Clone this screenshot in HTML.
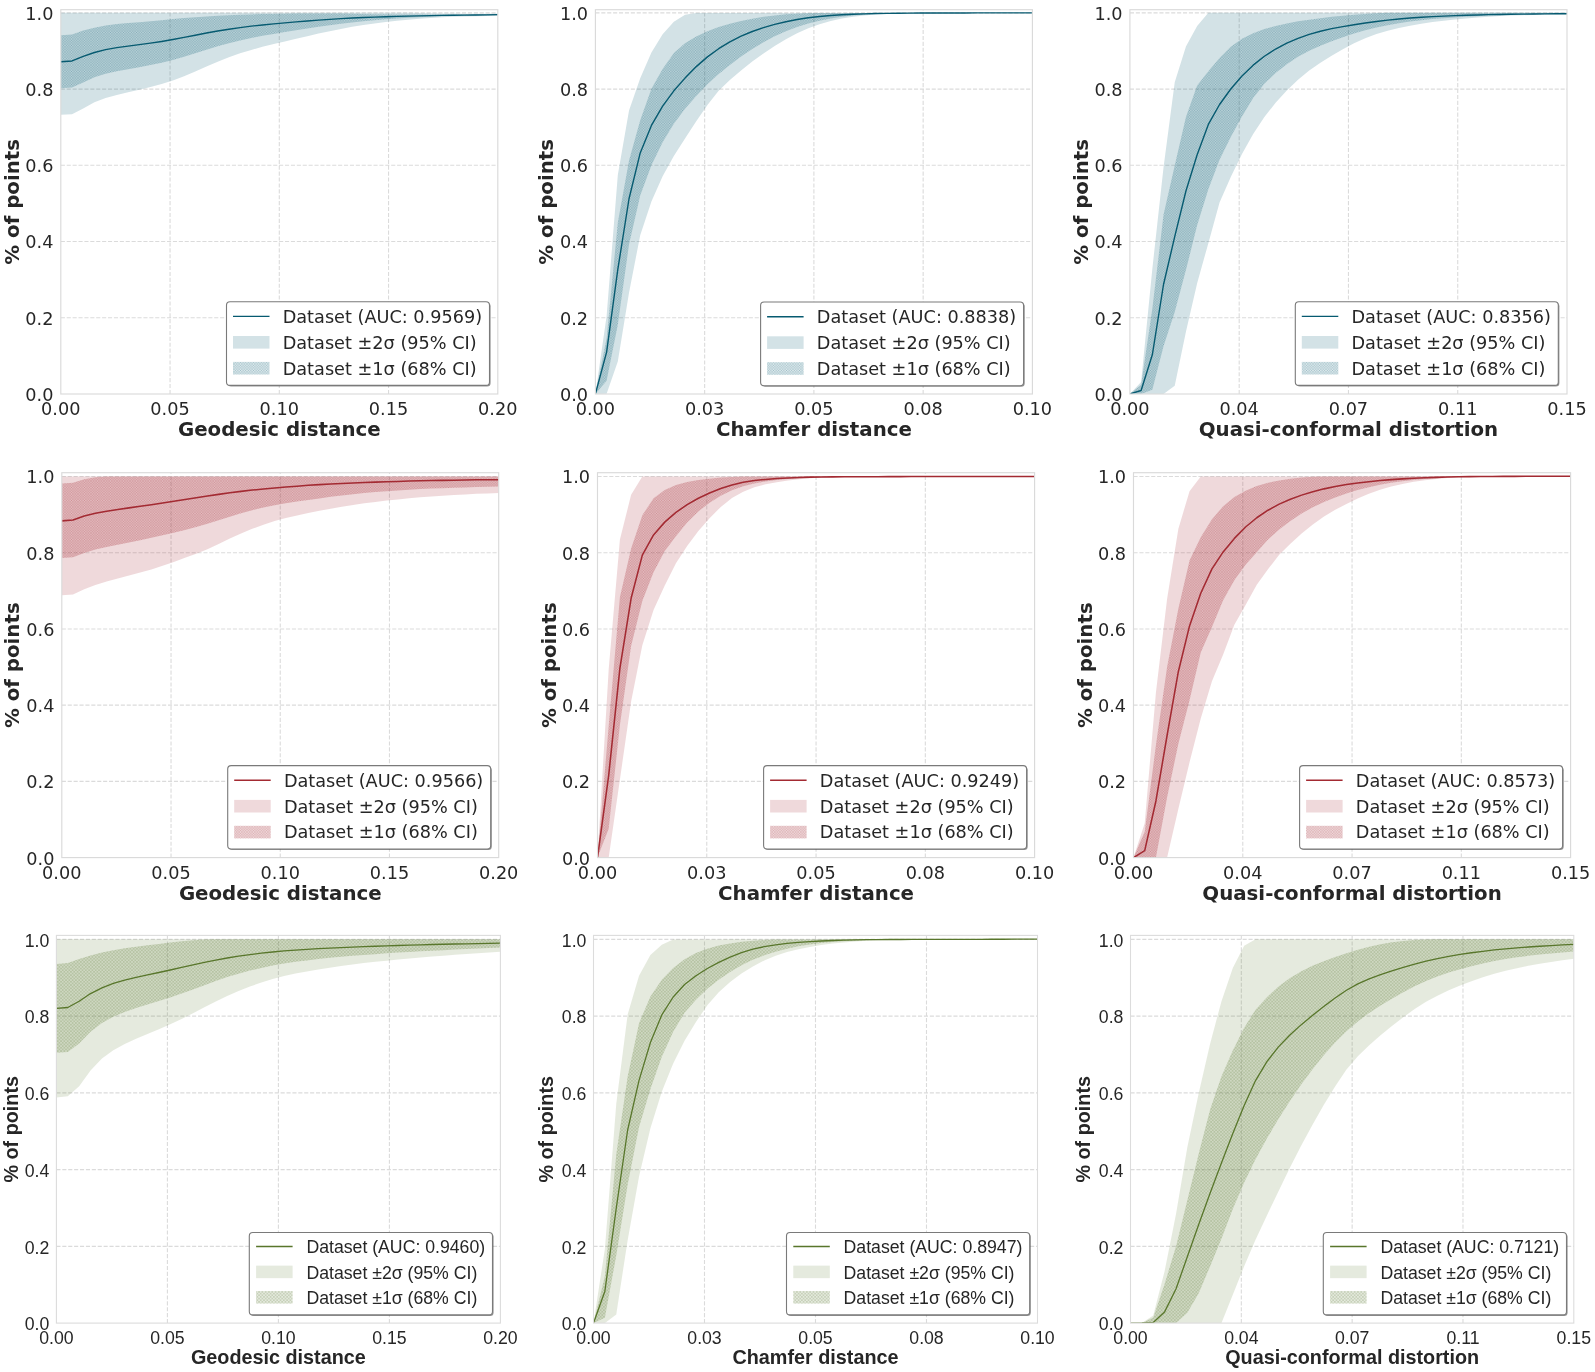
<!DOCTYPE html>
<html lang="en"><head><meta charset="utf-8"><title>CDF curves</title>
<style>html,body{margin:0;padding:0;background:#fff}svg{display:block}.dj{font-family:"DejaVu Sans","Liberation Sans",sans-serif}.lb{font-family:"Liberation Sans","DejaVu Sans",sans-serif}text{fill:#262626}.b{font-weight:bold}svg{will-change:transform;transform:translateZ(0)}</style></head><body>
<svg width="1595" height="1372" viewBox="0 0 1595 1372">
<rect width="1595" height="1372" fill="#fff"/>
<defs>
<pattern id="h1" width="2.6" height="2.6" patternUnits="userSpaceOnUse"><rect width="2.6" height="2.6" fill="#065a70" fill-opacity="0.15"/><path d="M0,0 L2.6,2.6 M0,2.6 L2.6,0" stroke="#065a70" stroke-opacity="0.22" stroke-width="0.6" stroke-linecap="square" fill="none"/></pattern>
<pattern id="h2" width="2.6" height="2.6" patternUnits="userSpaceOnUse"><rect width="2.6" height="2.6" fill="#a32a32" fill-opacity="0.19"/><path d="M0,0 L2.6,2.6 M0,2.6 L2.6,0" stroke="#a32a32" stroke-opacity="0.22" stroke-width="0.6" stroke-linecap="square" fill="none"/></pattern>
<pattern id="h3" width="3.3" height="3.3" patternUnits="userSpaceOnUse"><rect width="3.3" height="3.3" fill="#58762b" fill-opacity="0.16"/><path d="M0,0 L3.3,3.3 M0,3.3 L3.3,0" stroke="#58762b" stroke-opacity="0.21" stroke-width="0.8" stroke-linecap="square" fill="none"/></pattern>
</defs>
<g>
<clipPath id="c0"><rect x="60.8" y="9.7" width="437" height="384.3"/></clipPath>
<path d="M60.8,317.77 H497.8 M60.8,241.54 H497.8 M60.8,165.31 H497.8 M60.8,89.08 H497.8 M60.8,12.85 H497.8 M170.05,394 V9.7 M279.3,394 V9.7 M388.55,394 V9.7" stroke="#dbdbdb" stroke-opacity="1" stroke-width="1.1" stroke-dasharray="4.1 1.8" fill="none"/>
<g clip-path="url(#c0)">
<path d="M60.8,12.85 L72.01,12.85 L83.21,12.85 L94.42,12.85 L105.62,12.85 L116.83,12.85 L128.03,12.85 L139.24,12.85 L150.44,12.85 L161.65,12.85 L172.85,12.85 L184.06,12.85 L195.26,12.85 L206.47,12.85 L217.67,12.85 L228.88,12.85 L240.08,12.85 L251.29,12.85 L262.49,12.85 L273.7,12.85 L284.9,12.85 L296.11,12.85 L307.31,12.85 L318.52,12.85 L329.72,12.85 L340.93,12.85 L352.13,12.85 L363.34,12.85 L374.54,12.85 L385.75,12.85 L396.95,12.85 L408.16,12.85 L419.36,13.07 L430.57,13.28 L441.77,13.41 L452.98,13.58 L464.18,13.74 L475.39,13.83 L486.59,13.76 L497.8,13.55 L497.8,15.8 L486.59,15.94 L475.39,16.14 L464.18,16.43 L452.98,16.81 L441.77,17.31 L430.57,17.95 L419.36,18.73 L408.16,19.66 L396.95,20.73 L385.75,21.98 L374.54,23.4 L363.34,25.02 L352.13,26.86 L340.93,28.91 L329.72,31.16 L318.52,33.6 L307.31,36.17 L296.11,38.82 L284.9,41.46 L273.7,44.11 L262.49,46.86 L251.29,49.88 L240.08,53.32 L228.88,57.28 L217.67,61.76 L206.47,66.6 L195.26,71.53 L184.06,76.24 L172.85,80.45 L161.65,84.06 L150.44,87.11 L139.24,89.78 L128.03,92.27 L116.83,94.89 L105.62,98.02 L94.42,102.31 L83.21,108.62 L72.01,114.26 L60.8,114.83Z" fill="#065a70" fill-opacity="0.175"/>
<path d="M60.8,35.27 L72.01,34.41 L83.21,30.47 L94.42,27.71 L105.62,25.57 L116.83,24.06 L128.03,23.01 L139.24,22.15 L150.44,21.25 L161.65,20.2 L172.85,19.1 L184.06,18.06 L195.26,17.15 L206.47,16.38 L217.67,15.76 L228.88,15.24 L240.08,14.78 L251.29,14.38 L262.49,14.09 L273.7,13.88 L284.9,13.68 L296.11,13.51 L307.31,13.41 L318.52,13.43 L329.72,13.51 L340.93,13.62 L352.13,13.76 L363.34,13.93 L374.54,14.13 L385.75,14.31 L396.95,14.42 L408.16,14.46 L419.36,14.46 L430.57,14.44 L441.77,14.39 L452.98,14.39 L464.18,14.41 L475.39,14.41 L486.59,14.3 L497.8,14.11 L497.8,15.24 L486.59,15.39 L475.39,15.56 L464.18,15.76 L452.98,16 L441.77,16.35 L430.57,16.76 L419.36,17.24 L408.16,17.79 L396.95,18.42 L385.75,19.19 L374.54,20.13 L363.34,21.2 L352.13,22.38 L340.93,23.69 L329.72,25.15 L318.52,26.77 L307.31,28.49 L296.11,30.26 L284.9,32.06 L273.7,33.89 L262.49,35.82 L251.29,37.96 L240.08,40.38 L228.88,43.15 L217.67,46.27 L206.47,49.69 L195.26,53.25 L184.06,56.75 L172.85,59.96 L161.65,62.75 L150.44,65.11 L139.24,67.18 L128.03,69.15 L116.83,71.23 L105.62,73.76 L94.42,77.23 L83.21,82.38 L72.01,87.45 L60.8,88.31Z" fill="url(#h1)"/>
</g>
<path d="M60.8,61.79 L72.01,60.93 L83.21,56.43 L94.42,52.47 L105.62,49.67 L116.83,47.65 L128.03,46.08 L139.24,44.67 L150.44,43.18 L161.65,41.48 L172.85,39.53 L184.06,37.4 L195.26,35.2 L206.47,33.04 L217.67,31.02 L228.88,29.2 L240.08,27.58 L251.29,26.17 L262.49,24.96 L273.7,23.88 L284.9,22.87 L296.11,21.89 L307.31,20.95 L318.52,20.1 L329.72,19.33 L340.93,18.65 L352.13,18.07 L363.34,17.57 L374.54,17.13 L385.75,16.75 L396.95,16.42 L408.16,16.12 L419.36,15.85 L430.57,15.6 L441.77,15.37 L452.98,15.2 L464.18,15.09 L475.39,14.98 L486.59,14.84 L497.8,14.67" stroke="#065a70" stroke-width="1.4" fill="none" stroke-linejoin="round" clip-path="url(#c0)"/>
<rect x="60.8" y="9.7" width="437" height="384.3" fill="none" stroke="#dadada" stroke-width="1.15"/>
<text class="dj" x="53.4" y="400.9" font-size="17.68" text-anchor="end">0.0</text>
<text class="dj" x="53.4" y="324.67" font-size="17.68" text-anchor="end">0.2</text>
<text class="dj" x="53.4" y="248.44" font-size="17.68" text-anchor="end">0.4</text>
<text class="dj" x="53.4" y="172.21" font-size="17.68" text-anchor="end">0.6</text>
<text class="dj" x="53.4" y="95.98" font-size="17.68" text-anchor="end">0.8</text>
<text class="dj" x="53.4" y="19.75" font-size="17.68" text-anchor="end">1.0</text>
<text class="dj" x="60.8" y="415.3" font-size="17.68" text-anchor="middle">0.00</text>
<text class="dj" x="170.05" y="415.3" font-size="17.68" text-anchor="middle">0.05</text>
<text class="dj" x="279.3" y="415.3" font-size="17.68" text-anchor="middle">0.10</text>
<text class="dj" x="388.55" y="415.3" font-size="17.68" text-anchor="middle">0.15</text>
<text class="dj" x="497.8" y="415.3" font-size="17.68" text-anchor="middle">0.20</text>
<text class="dj b" x="279.3" y="436" font-size="19.8" text-anchor="middle">Geodesic distance</text>
<text class="dj b" transform="translate(19.2,201.85) rotate(-90)" font-size="19.8" text-anchor="middle">% of points</text>
<rect x="227.6" y="302.8" width="263" height="83.7" rx="3.5" fill="#000" fill-opacity="0.42"/>
<rect x="226.5" y="301.7" width="263" height="83.7" rx="3.5" fill="#fff" stroke="#7a7a7a" stroke-width="1.1"/>
<path d="M233,316.4 H269.5" stroke="#065a70" stroke-width="1.4"/>
<rect x="233" y="336" width="36.5" height="12.6" fill="#065a70" fill-opacity="0.175"/>
<rect x="233" y="361.9" width="36.5" height="12.6" fill="url(#h1)"/>
<text class="dj" x="282.7" y="322.7" font-size="17.68">Dataset (AUC: 0.9569)</text>
<text class="dj" x="282.7" y="348.6" font-size="17.68">Dataset ±2σ (95% CI)</text>
<text class="dj" x="282.7" y="374.5" font-size="17.68">Dataset ±1σ (68% CI)</text>
</g>
<g>
<clipPath id="c1"><rect x="595.4" y="9.7" width="437" height="384.3"/></clipPath>
<path d="M595.4,317.77 H1032.4 M595.4,241.54 H1032.4 M595.4,165.31 H1032.4 M595.4,89.08 H1032.4 M595.4,12.85 H1032.4 M704.65,394 V9.7 M813.9,394 V9.7 M923.15,394 V9.7" stroke="#dbdbdb" stroke-opacity="1" stroke-width="1.1" stroke-dasharray="4.1 1.8" fill="none"/>
<g clip-path="url(#c1)">
<path d="M595.4,393.88 L606.61,316.11 L617.81,175.09 L629.02,110.52 L640.22,78.19 L651.43,52.49 L662.63,34.16 L673.84,21.87 L685.04,14.64 L696.25,12.92 L707.45,12.92 L718.66,12.92 L729.86,12.92 L741.07,12.92 L752.27,12.92 L763.48,12.92 L774.68,12.92 L785.89,12.92 L797.09,12.92 L808.3,12.92 L819.5,12.92 L830.71,12.92 L841.91,12.92 L853.12,12.92 L864.32,12.92 L875.53,12.92 L886.73,12.92 L897.94,12.92 L909.14,12.92 L920.35,12.92 L931.55,12.92 L942.76,12.92 L953.96,12.92 L965.17,12.92 L976.37,12.92 L987.58,12.92 L998.78,12.92 L1009.99,12.92 L1021.19,12.92 L1032.4,12.92 L1032.4,12.92 L1021.19,12.92 L1009.99,12.93 L998.78,12.94 L987.58,12.96 L976.37,12.98 L965.17,13.01 L953.96,13.04 L942.76,13.08 L931.55,13.13 L920.35,13.19 L909.14,13.34 L897.94,13.6 L886.73,13.98 L875.53,14.56 L864.32,15.44 L853.12,16.73 L841.91,18.53 L830.71,21 L819.5,24.23 L808.3,28.32 L797.09,33.34 L785.89,39.25 L774.68,45.98 L763.48,53.45 L752.27,61.59 L741.07,70.4 L729.86,80.07 L718.66,90.86 L707.45,104.97 L696.25,121.14 L685.04,138.4 L673.84,155.94 L662.63,176.28 L651.43,201.38 L640.22,235.24 L629.02,292.73 L617.81,361.53 L606.61,393.86 L595.4,393.88Z" fill="#065a70" fill-opacity="0.175"/>
<path d="M595.4,393.87 L606.61,338.17 L617.81,222.46 L629.02,160.56 L640.22,120.36 L651.43,88.71 L662.63,69.09 L673.84,53.1 L685.04,43.33 L696.25,36.41 L707.45,31.21 L718.66,27.11 L729.86,23.79 L741.07,21.04 L752.27,18.71 L763.48,16.82 L774.68,15.39 L785.89,14.37 L797.09,13.65 L808.3,13.13 L819.5,13.03 L830.71,13.02 L841.91,13 L853.12,12.99 L864.32,12.98 L875.53,12.97 L886.73,12.96 L897.94,12.95 L909.14,12.94 L920.35,12.94 L931.55,12.93 L942.76,12.93 L953.96,12.92 L965.17,12.92 L976.37,12.92 L987.58,12.92 L998.78,12.92 L1009.99,12.92 L1021.19,12.92 L1032.4,12.92 L1032.4,12.92 L1021.19,12.92 L1009.99,12.93 L998.78,12.94 L987.58,12.96 L976.37,12.98 L965.17,13.01 L953.96,13.05 L942.76,13.09 L931.55,13.13 L920.35,13.18 L909.14,13.27 L897.94,13.42 L886.73,13.64 L875.53,14.05 L864.32,14.66 L853.12,15.56 L841.91,16.81 L830.71,18.5 L819.5,20.68 L808.3,23.48 L797.09,26.97 L785.89,31.24 L774.68,36.33 L763.48,42.27 L752.27,49.06 L741.07,56.61 L729.86,64.9 L718.66,74.05 L707.45,84.33 L696.25,96.01 L685.04,108.85 L673.84,123.81 L662.63,142.27 L651.43,165.3 L640.22,195.59 L629.02,244.52 L617.81,324.67 L606.61,380.67 L595.4,393.88Z" fill="url(#h1)"/>
</g>
<path d="M595.4,393.87 L606.61,352.1 L617.81,269.46 L629.02,198.76 L640.22,152.94 L651.43,125.42 L662.63,106.13 L673.84,90.83 L685.04,78.1 L696.25,66.61 L707.45,56.88 L718.66,48.7 L729.86,41.86 L741.07,36.18 L752.27,31.49 L763.48,27.62 L774.68,24.39 L785.89,21.71 L797.09,19.52 L808.3,17.78 L819.5,16.46 L830.71,15.47 L841.91,14.75 L853.12,14.22 L864.32,13.84 L875.53,13.56 L886.73,13.35 L897.94,13.22 L909.14,13.12 L920.35,13.05 L931.55,13.01 L942.76,12.98 L953.96,12.96 L965.17,12.94 L976.37,12.92 L987.58,12.92 L998.78,12.92 L1009.99,12.92 L1021.19,12.92 L1032.4,12.92" stroke="#065a70" stroke-width="1.4" fill="none" stroke-linejoin="round" clip-path="url(#c1)"/>
<rect x="595.4" y="9.7" width="437" height="384.3" fill="none" stroke="#dadada" stroke-width="1.15"/>
<text class="dj" x="588" y="400.9" font-size="17.68" text-anchor="end">0.0</text>
<text class="dj" x="588" y="324.67" font-size="17.68" text-anchor="end">0.2</text>
<text class="dj" x="588" y="248.44" font-size="17.68" text-anchor="end">0.4</text>
<text class="dj" x="588" y="172.21" font-size="17.68" text-anchor="end">0.6</text>
<text class="dj" x="588" y="95.98" font-size="17.68" text-anchor="end">0.8</text>
<text class="dj" x="588" y="19.75" font-size="17.68" text-anchor="end">1.0</text>
<text class="dj" x="595.4" y="415.3" font-size="17.68" text-anchor="middle">0.00</text>
<text class="dj" x="704.65" y="415.3" font-size="17.68" text-anchor="middle">0.03</text>
<text class="dj" x="813.9" y="415.3" font-size="17.68" text-anchor="middle">0.05</text>
<text class="dj" x="923.15" y="415.3" font-size="17.68" text-anchor="middle">0.08</text>
<text class="dj" x="1032.4" y="415.3" font-size="17.68" text-anchor="middle">0.10</text>
<text class="dj b" x="813.9" y="436" font-size="19.8" text-anchor="middle">Chamfer distance</text>
<text class="dj b" transform="translate(553,201.85) rotate(-90)" font-size="19.8" text-anchor="middle">% of points</text>
<rect x="761.7" y="303.1" width="263" height="83.7" rx="3.5" fill="#000" fill-opacity="0.42"/>
<rect x="760.6" y="302" width="263" height="83.7" rx="3.5" fill="#fff" stroke="#7a7a7a" stroke-width="1.1"/>
<path d="M767.1,316.7 H803.6" stroke="#065a70" stroke-width="1.4"/>
<rect x="767.1" y="336.3" width="36.5" height="12.6" fill="#065a70" fill-opacity="0.175"/>
<rect x="767.1" y="362.2" width="36.5" height="12.6" fill="url(#h1)"/>
<text class="dj" x="816.8" y="323" font-size="17.68">Dataset (AUC: 0.8838)</text>
<text class="dj" x="816.8" y="348.9" font-size="17.68">Dataset ±2σ (95% CI)</text>
<text class="dj" x="816.8" y="374.8" font-size="17.68">Dataset ±1σ (68% CI)</text>
</g>
<g>
<clipPath id="c2"><rect x="1129.9" y="9.7" width="437.1" height="384.3"/></clipPath>
<path d="M1129.9,317.77 H1567 M1129.9,241.54 H1567 M1129.9,165.31 H1567 M1129.9,89.08 H1567 M1129.9,12.85 H1567 M1239.18,394 V9.7 M1348.45,394 V9.7 M1457.72,394 V9.7" stroke="#dbdbdb" stroke-opacity="1" stroke-width="1.1" stroke-dasharray="4.1 1.8" fill="none"/>
<g clip-path="url(#c2)">
<path d="M1129.9,393.88 L1141.11,381.91 L1152.32,268.95 L1163.52,167.53 L1174.73,82.25 L1185.94,46.47 L1197.15,26.12 L1208.35,12.87 L1219.56,12.87 L1230.77,12.86 L1241.98,12.86 L1253.18,12.86 L1264.39,12.85 L1275.6,12.85 L1286.81,12.85 L1298.02,12.85 L1309.22,12.85 L1320.43,12.85 L1331.64,12.85 L1342.85,12.85 L1354.05,12.85 L1365.26,12.85 L1376.47,12.85 L1387.68,12.85 L1398.88,12.85 L1410.09,12.85 L1421.3,12.85 L1432.51,12.85 L1443.72,12.85 L1454.92,12.85 L1466.13,12.85 L1477.34,12.85 L1488.55,12.85 L1499.75,12.85 L1510.96,12.85 L1522.17,12.85 L1533.38,12.85 L1544.58,12.85 L1555.79,12.85 L1567,12.85 L1567,14.33 L1555.79,14.43 L1544.58,14.62 L1533.38,14.89 L1522.17,15.21 L1510.96,15.6 L1499.75,16.11 L1488.55,16.75 L1477.34,17.54 L1466.13,18.47 L1454.92,19.54 L1443.72,20.74 L1432.51,22.12 L1421.3,23.75 L1410.09,25.69 L1398.88,28 L1387.68,30.75 L1376.47,34.1 L1365.26,38.27 L1354.05,43.34 L1342.85,49.19 L1331.64,55.64 L1320.43,62.7 L1309.22,70.62 L1298.02,79.78 L1286.81,90.46 L1275.6,102.79 L1264.39,117.05 L1253.18,133.9 L1241.98,154.01 L1230.77,177.12 L1219.56,202.39 L1208.35,243.14 L1197.15,283.16 L1185.94,331.74 L1174.73,385.77 L1163.52,393.88 L1152.32,393.88 L1141.11,393.88 L1129.9,393.88Z" fill="#065a70" fill-opacity="0.175"/>
<path d="M1129.9,393.88 L1141.11,384.81 L1152.32,308.68 L1163.52,214.7 L1174.73,165.57 L1185.94,117.02 L1197.15,85.38 L1208.35,71.27 L1219.56,58.05 L1230.77,46.82 L1241.98,38.86 L1253.18,33.2 L1264.39,29.08 L1275.6,25.93 L1286.81,23.42 L1298.02,21.36 L1309.22,19.66 L1320.43,18.18 L1331.64,16.87 L1342.85,15.73 L1354.05,14.76 L1365.26,13.97 L1376.47,13.34 L1387.68,12.85 L1398.88,12.85 L1410.09,12.85 L1421.3,12.85 L1432.51,12.85 L1443.72,12.85 L1454.92,12.85 L1466.13,12.85 L1477.34,12.85 L1488.55,12.85 L1499.75,12.85 L1510.96,12.85 L1522.17,12.85 L1533.38,12.85 L1544.58,12.85 L1555.79,12.85 L1567,12.85 L1567,14.03 L1555.79,14.09 L1544.58,14.22 L1533.38,14.4 L1522.17,14.6 L1510.96,14.85 L1499.75,15.19 L1488.55,15.62 L1477.34,16.14 L1466.13,16.75 L1454.92,17.44 L1443.72,18.22 L1432.51,19.12 L1421.3,20.23 L1410.09,21.58 L1398.88,23.22 L1387.68,25.18 L1376.47,27.54 L1365.26,30.35 L1354.05,33.62 L1342.85,37.28 L1331.64,41.27 L1320.43,45.7 L1309.22,50.8 L1298.02,56.87 L1286.81,64.2 L1275.6,73.08 L1264.39,83.85 L1253.18,98.06 L1241.98,116.62 L1230.77,137.06 L1219.56,159.66 L1208.35,189.16 L1197.15,225.2 L1185.94,270.08 L1174.73,311.88 L1163.52,346.14 L1152.32,389.84 L1141.11,393.88 L1129.9,393.88Z" fill="url(#h1)"/>
</g>
<path d="M1129.9,393.88 L1141.11,390.52 L1152.32,354.8 L1163.52,284.51 L1174.73,236.68 L1185.94,190.97 L1197.15,154.7 L1208.35,124.44 L1219.56,104.52 L1230.77,88.99 L1241.98,76.02 L1253.18,65.17 L1264.39,56.27 L1275.6,49.03 L1286.81,43.17 L1298.02,38.37 L1309.22,34.42 L1320.43,31.22 L1331.64,28.68 L1342.85,26.58 L1354.05,24.71 L1365.26,22.99 L1376.47,21.44 L1387.68,20.1 L1398.88,18.98 L1410.09,18.04 L1421.3,17.27 L1432.51,16.62 L1443.72,16.08 L1454.92,15.63 L1466.13,15.25 L1477.34,14.93 L1488.55,14.67 L1499.75,14.47 L1510.96,14.3 L1522.17,14.16 L1533.38,14.03 L1544.58,13.91 L1555.79,13.81 L1567,13.73" stroke="#065a70" stroke-width="1.4" fill="none" stroke-linejoin="round" clip-path="url(#c2)"/>
<rect x="1129.9" y="9.7" width="437.1" height="384.3" fill="none" stroke="#dadada" stroke-width="1.15"/>
<text class="dj" x="1122.5" y="400.9" font-size="17.68" text-anchor="end">0.0</text>
<text class="dj" x="1122.5" y="324.67" font-size="17.68" text-anchor="end">0.2</text>
<text class="dj" x="1122.5" y="248.44" font-size="17.68" text-anchor="end">0.4</text>
<text class="dj" x="1122.5" y="172.21" font-size="17.68" text-anchor="end">0.6</text>
<text class="dj" x="1122.5" y="95.98" font-size="17.68" text-anchor="end">0.8</text>
<text class="dj" x="1122.5" y="19.75" font-size="17.68" text-anchor="end">1.0</text>
<text class="dj" x="1129.9" y="415.3" font-size="17.68" text-anchor="middle">0.00</text>
<text class="dj" x="1239.18" y="415.3" font-size="17.68" text-anchor="middle">0.04</text>
<text class="dj" x="1348.45" y="415.3" font-size="17.68" text-anchor="middle">0.07</text>
<text class="dj" x="1457.72" y="415.3" font-size="17.68" text-anchor="middle">0.11</text>
<text class="dj" x="1567" y="415.3" font-size="17.68" text-anchor="middle">0.15</text>
<text class="dj b" x="1348.45" y="436" font-size="19.8" text-anchor="middle">Quasi-conformal distortion</text>
<text class="dj b" transform="translate(1088,201.85) rotate(-90)" font-size="19.8" text-anchor="middle">% of points</text>
<rect x="1296.4" y="302.8" width="263" height="83.7" rx="3.5" fill="#000" fill-opacity="0.42"/>
<rect x="1295.3" y="301.7" width="263" height="83.7" rx="3.5" fill="#fff" stroke="#7a7a7a" stroke-width="1.1"/>
<path d="M1301.8,316.4 H1338.3" stroke="#065a70" stroke-width="1.4"/>
<rect x="1301.8" y="336" width="36.5" height="12.6" fill="#065a70" fill-opacity="0.175"/>
<rect x="1301.8" y="361.9" width="36.5" height="12.6" fill="url(#h1)"/>
<text class="dj" x="1351.5" y="322.7" font-size="17.68">Dataset (AUC: 0.8356)</text>
<text class="dj" x="1351.5" y="348.6" font-size="17.68">Dataset ±2σ (95% CI)</text>
<text class="dj" x="1351.5" y="374.5" font-size="17.68">Dataset ±1σ (68% CI)</text>
</g>
<g>
<clipPath id="c3"><rect x="61.8" y="472.7" width="436.9" height="384.9"/></clipPath>
<path d="M61.8,781.38 H498.7 M61.8,705.16 H498.7 M61.8,628.94 H498.7 M61.8,552.72 H498.7 M61.8,476.5 H498.7 M171.02,857.6 V472.7 M280.25,857.6 V472.7 M389.47,857.6 V472.7" stroke="#dbdbdb" stroke-opacity="1" stroke-width="1.1" stroke-dasharray="4.1 1.8" fill="none"/>
<g clip-path="url(#c3)">
<path d="M61.8,476.5 L73,476.5 L84.21,476.5 L95.41,476.5 L106.61,476.5 L117.81,476.5 L129.02,476.5 L140.22,476.5 L151.42,476.5 L162.62,476.5 L173.83,476.5 L185.03,476.5 L196.23,476.5 L207.43,476.5 L218.64,476.5 L229.84,476.5 L241.04,476.5 L252.24,476.5 L263.45,476.5 L274.65,476.5 L285.85,476.5 L297.05,476.5 L308.26,476.5 L319.46,476.5 L330.66,476.5 L341.86,476.5 L353.07,476.5 L364.27,476.5 L375.47,476.5 L386.67,476.5 L397.88,476.5 L409.08,476.5 L420.28,476.5 L431.48,476.5 L442.69,476.5 L453.89,476.5 L465.09,476.5 L476.29,476.5 L487.5,476.5 L498.7,476.5 L498.7,492.95 L487.5,493.38 L476.29,493.87 L465.09,494.4 L453.89,495 L442.69,495.67 L431.48,496.44 L420.28,497.32 L409.08,498.31 L397.88,499.41 L386.67,500.6 L375.47,501.89 L364.27,503.3 L353.07,504.88 L341.86,506.65 L330.66,508.64 L319.46,510.8 L308.26,513.06 L297.05,515.44 L285.85,518.06 L274.65,521.1 L263.45,524.68 L252.24,528.83 L241.04,533.49 L229.84,538.55 L218.64,543.91 L207.43,549.16 L196.23,553.81 L185.03,557.86 L173.83,561.88 L162.62,565.86 L151.42,569.53 L140.22,572.62 L129.02,575.54 L117.81,578.42 L106.61,581.47 L95.41,585 L84.21,589.3 L73,594.42 L61.8,595.35Z" fill="#a32a32" fill-opacity="0.175"/>
<path d="M61.8,483.62 L73,482.7 L84.21,479.16 L95.41,477.15 L106.61,476.5 L117.81,476.5 L129.02,476.5 L140.22,476.5 L151.42,476.5 L162.62,476.5 L173.83,476.5 L185.03,476.5 L196.23,476.5 L207.43,476.5 L218.64,476.5 L229.84,476.5 L241.04,476.5 L252.24,476.5 L263.45,476.5 L274.65,476.5 L285.85,476.5 L297.05,476.5 L308.26,476.5 L319.46,476.5 L330.66,476.5 L341.86,476.5 L353.07,476.5 L364.27,476.5 L375.47,476.5 L386.67,476.5 L397.88,476.5 L409.08,476.5 L420.28,476.5 L431.48,476.5 L442.69,476.5 L453.89,476.5 L465.09,476.5 L476.29,476.5 L487.5,476.5 L498.7,476.5 L498.7,486.45 L487.5,486.75 L476.29,487.06 L465.09,487.39 L453.89,487.74 L442.69,488.13 L431.48,488.58 L420.28,489.09 L409.08,489.7 L397.88,490.39 L386.67,491.18 L375.47,492.06 L364.27,493.05 L353.07,494.18 L341.86,495.45 L330.66,496.87 L319.46,498.39 L308.26,499.96 L297.05,501.59 L285.85,503.33 L274.65,505.28 L263.45,507.56 L252.24,510.22 L241.04,513.31 L229.84,516.82 L218.64,520.32 L207.43,523.67 L196.23,527.02 L185.03,529.95 L173.83,532.86 L162.62,535.37 L151.42,537.74 L140.22,540.21 L129.02,542.46 L117.81,544.68 L106.61,546.97 L95.41,549.58 L84.21,552.98 L73,557.18 L61.8,558.1Z" fill="url(#h2)"/>
</g>
<path d="M61.8,520.86 L73,519.94 L84.21,516.07 L95.41,513.36 L106.61,511.26 L117.81,509.5 L129.02,507.89 L140.22,506.32 L151.42,504.73 L162.62,503.08 L173.83,501.34 L185.03,499.54 L196.23,497.74 L207.43,496.01 L218.64,494.37 L229.84,492.82 L241.04,491.38 L252.24,490.09 L263.45,488.95 L274.65,487.94 L285.85,487.02 L297.05,486.16 L308.26,485.35 L319.46,484.63 L330.66,483.99 L341.86,483.43 L353.07,482.95 L364.27,482.51 L375.47,482.11 L386.67,481.74 L397.88,481.4 L409.08,481.1 L420.28,480.83 L431.48,480.59 L442.69,480.37 L453.89,480.17 L465.09,479.98 L476.29,479.83 L487.5,479.73 L498.7,479.67" stroke="#a32a32" stroke-width="1.55" fill="none" stroke-linejoin="round" clip-path="url(#c3)"/>
<rect x="61.8" y="472.7" width="436.9" height="384.9" fill="none" stroke="#dadada" stroke-width="1.15"/>
<text class="dj" x="54.4" y="864.5" font-size="17.68" text-anchor="end">0.0</text>
<text class="dj" x="54.4" y="788.28" font-size="17.68" text-anchor="end">0.2</text>
<text class="dj" x="54.4" y="712.06" font-size="17.68" text-anchor="end">0.4</text>
<text class="dj" x="54.4" y="635.84" font-size="17.68" text-anchor="end">0.6</text>
<text class="dj" x="54.4" y="559.62" font-size="17.68" text-anchor="end">0.8</text>
<text class="dj" x="54.4" y="483.4" font-size="17.68" text-anchor="end">1.0</text>
<text class="dj" x="61.8" y="878.9" font-size="17.68" text-anchor="middle">0.00</text>
<text class="dj" x="171.02" y="878.9" font-size="17.68" text-anchor="middle">0.05</text>
<text class="dj" x="280.25" y="878.9" font-size="17.68" text-anchor="middle">0.10</text>
<text class="dj" x="389.47" y="878.9" font-size="17.68" text-anchor="middle">0.15</text>
<text class="dj" x="498.7" y="878.9" font-size="17.68" text-anchor="middle">0.20</text>
<text class="dj b" x="280.25" y="899.6" font-size="19.8" text-anchor="middle">Geodesic distance</text>
<text class="dj b" transform="translate(19.2,665.15) rotate(-90)" font-size="19.8" text-anchor="middle">% of points</text>
<rect x="228.8" y="766.7" width="263" height="83.4" rx="3.5" fill="#000" fill-opacity="0.42"/>
<rect x="227.7" y="765.6" width="263" height="83.4" rx="3.5" fill="#fff" stroke="#7a7a7a" stroke-width="1.1"/>
<path d="M234.2,780.3 H270.7" stroke="#a32a32" stroke-width="1.55"/>
<rect x="234.2" y="799.9" width="36.5" height="12.6" fill="#a32a32" fill-opacity="0.175"/>
<rect x="234.2" y="825.8" width="36.5" height="12.6" fill="url(#h2)"/>
<text class="dj" x="283.9" y="786.6" font-size="17.68">Dataset (AUC: 0.9566)</text>
<text class="dj" x="283.9" y="812.5" font-size="17.68">Dataset ±2σ (95% CI)</text>
<text class="dj" x="283.9" y="838.4" font-size="17.68">Dataset ±1σ (68% CI)</text>
</g>
<g>
<clipPath id="c4"><rect x="597.5" y="472.7" width="437.1" height="384.9"/></clipPath>
<path d="M597.5,781.38 H1034.6 M597.5,705.16 H1034.6 M597.5,628.94 H1034.6 M597.5,552.72 H1034.6 M597.5,476.5 H1034.6 M706.77,857.6 V472.7 M816.05,857.6 V472.7 M925.32,857.6 V472.7" stroke="#dbdbdb" stroke-opacity="1" stroke-width="1.1" stroke-dasharray="4.1 1.8" fill="none"/>
<g clip-path="url(#c4)">
<path d="M597.5,857.59 L608.71,668.91 L619.92,539.49 L631.12,494.86 L642.33,476.5 L653.54,476.5 L664.75,476.5 L675.95,476.5 L687.16,476.5 L698.37,476.5 L709.58,476.5 L720.78,476.5 L731.99,476.5 L743.2,476.5 L754.41,476.5 L765.62,476.5 L776.82,476.5 L788.03,476.5 L799.24,476.5 L810.45,476.5 L821.65,476.5 L832.86,476.5 L844.07,476.5 L855.28,476.5 L866.48,476.5 L877.69,476.5 L888.9,476.5 L900.11,476.5 L911.32,476.5 L922.52,476.5 L933.73,476.5 L944.94,476.5 L956.15,476.5 L967.35,476.5 L978.56,476.5 L989.77,476.5 L1000.98,476.51 L1012.18,476.52 L1023.39,476.53 L1034.6,476.54 L1034.6,476.54 L1023.39,476.54 L1012.18,476.54 L1000.98,476.55 L989.77,476.55 L978.56,476.56 L967.35,476.56 L956.15,476.57 L944.94,476.58 L933.73,476.59 L922.52,476.61 L911.32,476.62 L900.11,476.64 L888.9,476.66 L877.69,476.69 L866.48,476.72 L855.28,476.75 L844.07,476.78 L832.86,476.95 L821.65,477.49 L810.45,478.19 L799.24,479.14 L788.03,480.43 L776.82,482.16 L765.62,484.36 L754.41,487.33 L743.2,491.67 L731.99,498.09 L720.78,506.9 L709.58,518.3 L698.37,530.88 L687.16,546.12 L675.95,563.31 L664.75,585.45 L653.54,610 L642.33,645.21 L631.12,701.51 L619.92,779.52 L608.71,857.59 L597.5,857.59Z" fill="#a32a32" fill-opacity="0.175"/>
<path d="M597.5,857.59 L608.71,725.59 L619.92,596.93 L631.12,548.46 L642.33,515.26 L653.54,498.34 L664.75,490 L675.95,485 L687.16,481.96 L698.37,480.01 L709.58,478.63 L720.78,477.62 L731.99,476.92 L743.2,476.5 L754.41,476.5 L765.62,476.5 L776.82,476.5 L788.03,476.5 L799.24,476.5 L810.45,476.5 L821.65,476.5 L832.86,476.5 L844.07,476.5 L855.28,476.5 L866.48,476.5 L877.69,476.5 L888.9,476.5 L900.11,476.5 L911.32,476.5 L922.52,476.5 L933.73,476.5 L944.94,476.5 L956.15,476.5 L967.35,476.5 L978.56,476.5 L989.77,476.5 L1000.98,476.5 L1012.18,476.51 L1023.39,476.53 L1034.6,476.54 L1034.6,476.54 L1023.39,476.54 L1012.18,476.54 L1000.98,476.55 L989.77,476.55 L978.56,476.56 L967.35,476.56 L956.15,476.57 L944.94,476.58 L933.73,476.59 L922.52,476.61 L911.32,476.63 L900.11,476.65 L888.9,476.67 L877.69,476.69 L866.48,476.72 L855.28,476.75 L844.07,476.78 L832.86,476.9 L821.65,477.23 L810.45,477.65 L799.24,478.21 L788.03,478.99 L776.82,480.06 L765.62,481.47 L754.41,483.39 L743.2,486.17 L731.99,490.19 L720.78,495.63 L709.58,502.63 L698.37,511.46 L687.16,522.54 L675.95,536.16 L664.75,550.95 L653.54,572.31 L642.33,601 L631.12,646.03 L619.92,724.93 L608.71,828.74 L597.5,857.59Z" fill="url(#h2)"/>
</g>
<path d="M597.5,857.59 L608.71,775.27 L619.92,668.07 L631.12,598.29 L642.33,555.1 L653.54,534.99 L664.75,522.12 L675.95,512.42 L687.16,504.64 L698.37,498.26 L709.58,492.94 L720.78,488.51 L731.99,484.95 L743.2,482.32 L754.41,480.58 L765.62,479.42 L776.82,478.58 L788.03,477.94 L799.24,477.46 L810.45,477.14 L821.65,476.97 L832.86,476.86 L844.07,476.76 L855.28,476.7 L866.48,476.67 L877.69,476.65 L888.9,476.63 L900.11,476.61 L911.32,476.59 L922.52,476.58 L933.73,476.57 L944.94,476.56 L956.15,476.55 L967.35,476.55 L978.56,476.54 L989.77,476.54 L1000.98,476.54 L1012.18,476.54 L1023.39,476.54 L1034.6,476.54" stroke="#a32a32" stroke-width="1.55" fill="none" stroke-linejoin="round" clip-path="url(#c4)"/>
<rect x="597.5" y="472.7" width="437.1" height="384.9" fill="none" stroke="#dadada" stroke-width="1.15"/>
<text class="dj" x="590.1" y="864.5" font-size="17.68" text-anchor="end">0.0</text>
<text class="dj" x="590.1" y="788.28" font-size="17.68" text-anchor="end">0.2</text>
<text class="dj" x="590.1" y="712.06" font-size="17.68" text-anchor="end">0.4</text>
<text class="dj" x="590.1" y="635.84" font-size="17.68" text-anchor="end">0.6</text>
<text class="dj" x="590.1" y="559.62" font-size="17.68" text-anchor="end">0.8</text>
<text class="dj" x="590.1" y="483.4" font-size="17.68" text-anchor="end">1.0</text>
<text class="dj" x="597.5" y="878.9" font-size="17.68" text-anchor="middle">0.00</text>
<text class="dj" x="706.77" y="878.9" font-size="17.68" text-anchor="middle">0.03</text>
<text class="dj" x="816.05" y="878.9" font-size="17.68" text-anchor="middle">0.05</text>
<text class="dj" x="925.32" y="878.9" font-size="17.68" text-anchor="middle">0.08</text>
<text class="dj" x="1034.6" y="878.9" font-size="17.68" text-anchor="middle">0.10</text>
<text class="dj b" x="816.05" y="899.6" font-size="19.8" text-anchor="middle">Chamfer distance</text>
<text class="dj b" transform="translate(555.7,665.15) rotate(-90)" font-size="19.8" text-anchor="middle">% of points</text>
<rect x="764.7" y="766.7" width="263" height="83.4" rx="3.5" fill="#000" fill-opacity="0.42"/>
<rect x="763.6" y="765.6" width="263" height="83.4" rx="3.5" fill="#fff" stroke="#7a7a7a" stroke-width="1.1"/>
<path d="M770.1,780.3 H806.6" stroke="#a32a32" stroke-width="1.55"/>
<rect x="770.1" y="799.9" width="36.5" height="12.6" fill="#a32a32" fill-opacity="0.175"/>
<rect x="770.1" y="825.8" width="36.5" height="12.6" fill="url(#h2)"/>
<text class="dj" x="819.8" y="786.6" font-size="17.68">Dataset (AUC: 0.9249)</text>
<text class="dj" x="819.8" y="812.5" font-size="17.68">Dataset ±2σ (95% CI)</text>
<text class="dj" x="819.8" y="838.4" font-size="17.68">Dataset ±1σ (68% CI)</text>
</g>
<g>
<clipPath id="c5"><rect x="1133.5" y="472.7" width="437.1" height="384.9"/></clipPath>
<path d="M1133.5,781.38 H1570.6 M1133.5,705.16 H1570.6 M1133.5,628.94 H1570.6 M1133.5,552.72 H1570.6 M1133.5,476.5 H1570.6 M1242.78,857.6 V472.7 M1352.05,857.6 V472.7 M1461.32,857.6 V472.7" stroke="#dbdbdb" stroke-opacity="1" stroke-width="1.1" stroke-dasharray="4.1 1.8" fill="none"/>
<g clip-path="url(#c5)">
<path d="M1133.5,857.59 L1144.71,823.21 L1155.92,692.57 L1167.12,598.68 L1178.33,528.93 L1189.54,491.14 L1200.75,476.5 L1211.95,476.5 L1223.16,476.5 L1234.37,476.5 L1245.58,476.5 L1256.78,476.5 L1267.99,476.5 L1279.2,476.5 L1290.41,476.5 L1301.62,476.5 L1312.82,476.5 L1324.03,476.5 L1335.24,476.5 L1346.45,476.5 L1357.65,476.5 L1368.86,476.5 L1380.07,476.5 L1391.28,476.5 L1402.48,476.5 L1413.69,476.5 L1424.9,476.5 L1436.11,476.5 L1447.32,476.5 L1458.52,476.5 L1469.73,476.5 L1480.94,476.5 L1492.15,476.5 L1503.35,476.5 L1514.56,476.5 L1525.77,476.5 L1536.98,476.5 L1548.18,476.5 L1559.39,476.5 L1570.6,476.5 L1570.6,476.5 L1559.39,476.5 L1548.18,476.5 L1536.98,476.5 L1525.77,476.5 L1514.56,476.5 L1503.35,476.5 L1492.15,476.5 L1480.94,476.66 L1469.73,476.99 L1458.52,477.47 L1447.32,478.12 L1436.11,479.02 L1424.9,480.23 L1413.69,481.83 L1402.48,483.88 L1391.28,486.48 L1380.07,489.73 L1368.86,493.75 L1357.65,498.53 L1346.45,503.91 L1335.24,509.84 L1324.03,516.6 L1312.82,524.49 L1301.62,533.55 L1290.41,543.69 L1279.2,554.87 L1267.99,569.26 L1256.78,584.8 L1245.58,605.08 L1234.37,624.81 L1223.16,654.62 L1211.95,681.32 L1200.75,718.4 L1189.54,762.16 L1178.33,808.95 L1167.12,857.59 L1155.92,857.59 L1144.71,857.59 L1133.5,857.59Z" fill="#a32a32" fill-opacity="0.175"/>
<path d="M1133.5,857.59 L1144.71,831.85 L1155.92,745.05 L1167.12,666.81 L1178.33,608.85 L1189.54,560.59 L1200.75,537.28 L1211.95,519.23 L1223.16,506.18 L1234.37,497.03 L1245.58,490.63 L1256.78,486.08 L1267.99,482.79 L1279.2,480.4 L1290.41,478.71 L1301.62,477.55 L1312.82,476.78 L1324.03,476.5 L1335.24,476.5 L1346.45,476.5 L1357.65,476.5 L1368.86,476.5 L1380.07,476.5 L1391.28,476.5 L1402.48,476.5 L1413.69,476.5 L1424.9,476.5 L1436.11,476.5 L1447.32,476.5 L1458.52,476.5 L1469.73,476.5 L1480.94,476.5 L1492.15,476.5 L1503.35,476.5 L1514.56,476.5 L1525.77,476.5 L1536.98,476.5 L1548.18,476.5 L1559.39,476.5 L1570.6,476.5 L1570.6,476.5 L1559.39,476.5 L1548.18,476.5 L1536.98,476.5 L1525.77,476.5 L1514.56,476.5 L1503.35,476.5 L1492.15,476.5 L1480.94,476.56 L1469.73,476.75 L1458.52,477.12 L1447.32,477.57 L1436.11,478.15 L1424.9,478.92 L1413.69,479.95 L1402.48,481.25 L1391.28,482.82 L1380.07,484.74 L1368.86,487.13 L1357.65,490.07 L1346.45,493.52 L1335.24,497.45 L1324.03,501.97 L1312.82,507.28 L1301.62,513.53 L1290.41,520.89 L1279.2,529.5 L1267.99,539.59 L1256.78,552.22 L1245.58,564.72 L1234.37,580.26 L1223.16,600.26 L1211.95,626.98 L1200.75,652.59 L1189.54,700.14 L1178.33,744 L1167.12,797.19 L1155.92,857.59 L1144.71,857.59 L1133.5,857.59Z" fill="url(#h2)"/>
</g>
<path d="M1133.5,857.59 L1144.71,850.65 L1155.92,800.97 L1167.12,735.25 L1178.33,671.74 L1189.54,625.89 L1200.75,593.27 L1211.95,568.85 L1223.16,551.91 L1234.37,538.4 L1245.58,527.02 L1256.78,517.75 L1267.99,510.23 L1279.2,504.16 L1290.41,499.21 L1301.62,495.12 L1312.82,491.7 L1324.03,488.87 L1335.24,486.53 L1346.45,484.6 L1357.65,483 L1368.86,481.66 L1380.07,480.55 L1391.28,479.63 L1402.48,478.88 L1413.69,478.27 L1424.9,477.77 L1436.11,477.37 L1447.32,477.04 L1458.52,476.77 L1469.73,476.62 L1480.94,476.5 L1492.15,476.43 L1503.35,476.39 L1514.56,476.36 L1525.77,476.33 L1536.98,476.31 L1548.18,476.29 L1559.39,476.28 L1570.6,476.28" stroke="#a32a32" stroke-width="1.55" fill="none" stroke-linejoin="round" clip-path="url(#c5)"/>
<rect x="1133.5" y="472.7" width="437.1" height="384.9" fill="none" stroke="#dadada" stroke-width="1.15"/>
<text class="dj" x="1126.1" y="864.5" font-size="17.68" text-anchor="end">0.0</text>
<text class="dj" x="1126.1" y="788.28" font-size="17.68" text-anchor="end">0.2</text>
<text class="dj" x="1126.1" y="712.06" font-size="17.68" text-anchor="end">0.4</text>
<text class="dj" x="1126.1" y="635.84" font-size="17.68" text-anchor="end">0.6</text>
<text class="dj" x="1126.1" y="559.62" font-size="17.68" text-anchor="end">0.8</text>
<text class="dj" x="1126.1" y="483.4" font-size="17.68" text-anchor="end">1.0</text>
<text class="dj" x="1133.5" y="878.9" font-size="17.68" text-anchor="middle">0.00</text>
<text class="dj" x="1242.78" y="878.9" font-size="17.68" text-anchor="middle">0.04</text>
<text class="dj" x="1352.05" y="878.9" font-size="17.68" text-anchor="middle">0.07</text>
<text class="dj" x="1461.32" y="878.9" font-size="17.68" text-anchor="middle">0.11</text>
<text class="dj" x="1570.6" y="878.9" font-size="17.68" text-anchor="middle">0.15</text>
<text class="dj b" x="1352.05" y="899.6" font-size="19.8" text-anchor="middle">Quasi-conformal distortion</text>
<text class="dj b" transform="translate(1092,665.15) rotate(-90)" font-size="19.8" text-anchor="middle">% of points</text>
<rect x="1300.7" y="766.7" width="263" height="83.4" rx="3.5" fill="#000" fill-opacity="0.42"/>
<rect x="1299.6" y="765.6" width="263" height="83.4" rx="3.5" fill="#fff" stroke="#7a7a7a" stroke-width="1.1"/>
<path d="M1306.1,780.3 H1342.6" stroke="#a32a32" stroke-width="1.55"/>
<rect x="1306.1" y="799.9" width="36.5" height="12.6" fill="#a32a32" fill-opacity="0.175"/>
<rect x="1306.1" y="825.8" width="36.5" height="12.6" fill="url(#h2)"/>
<text class="dj" x="1355.8" y="786.6" font-size="17.68">Dataset (AUC: 0.8573)</text>
<text class="dj" x="1355.8" y="812.5" font-size="17.68">Dataset ±2σ (95% CI)</text>
<text class="dj" x="1355.8" y="838.4" font-size="17.68">Dataset ±1σ (68% CI)</text>
</g>
<g>
<clipPath id="c6"><rect x="56.4" y="935.4" width="444" height="387.7"/></clipPath>
<path d="M56.4,1246.35 H500.4 M56.4,1169.6 H500.4 M56.4,1092.85 H500.4 M56.4,1016.1 H500.4 M56.4,939.35 H500.4 M167.4,1323.1 V935.4 M278.4,1323.1 V935.4 M389.4,1323.1 V935.4" stroke="#dbdbdb" stroke-opacity="1" stroke-width="1.1" stroke-dasharray="4.1 1.8" fill="none"/>
<g clip-path="url(#c6)">
<path d="M56.4,939.35 L67.78,939.35 L79.17,939.35 L90.55,939.35 L101.94,939.35 L113.32,939.35 L124.71,939.35 L136.09,939.35 L147.48,939.35 L158.86,939.35 L170.25,939.35 L181.63,939.35 L193.02,939.35 L204.4,939.35 L215.78,939.35 L227.17,939.35 L238.55,939.35 L249.94,939.35 L261.32,939.35 L272.71,939.35 L284.09,939.35 L295.48,939.35 L306.86,939.35 L318.25,939.35 L329.63,939.35 L341.02,939.35 L352.4,939.35 L363.78,939.35 L375.17,939.35 L386.55,939.35 L397.94,939.35 L409.32,939.35 L420.71,939.35 L432.09,939.35 L443.48,939.35 L454.86,939.35 L466.25,939.35 L477.63,939.35 L489.02,939.35 L500.4,939.35 L500.4,951.84 L489.02,952.48 L477.63,953.18 L466.25,953.96 L454.86,954.81 L443.48,955.7 L432.09,956.6 L420.71,957.52 L409.32,958.49 L397.94,959.53 L386.55,960.64 L375.17,961.81 L363.78,963.08 L352.4,964.48 L341.02,966.02 L329.63,967.71 L318.25,969.51 L306.86,971.44 L295.48,973.58 L284.09,976.07 L272.71,979.04 L261.32,982.53 L249.94,986.53 L238.55,991.04 L227.17,996.05 L215.78,1001.54 L204.4,1007.36 L193.02,1013.25 L181.63,1018.91 L170.25,1024.18 L158.86,1029.14 L147.48,1033.94 L136.09,1038.77 L124.71,1043.99 L113.32,1050.27 L101.94,1058.61 L90.55,1070.43 L79.17,1086.14 L67.78,1096.33 L56.4,1097.46Z" fill="#58762b" fill-opacity="0.155"/>
<path d="M56.4,963.93 L67.78,963.08 L79.17,958.92 L90.55,955.49 L101.94,952.56 L113.32,950.18 L124.71,948.26 L136.09,946.67 L147.48,945.26 L158.86,943.92 L170.25,942.58 L181.63,941.29 L193.02,940.22 L204.4,939.49 L215.78,939.35 L227.17,939.35 L238.55,939.35 L249.94,939.35 L261.32,939.35 L272.71,939.35 L284.09,939.35 L295.48,939.35 L306.86,939.35 L318.25,939.35 L329.63,939.35 L341.02,939.35 L352.4,939.35 L363.78,939.35 L375.17,939.35 L386.55,939.35 L397.94,939.35 L409.32,939.35 L420.71,939.35 L432.09,939.35 L443.48,939.35 L454.86,939.35 L466.25,939.35 L477.63,939.35 L489.02,939.35 L500.4,939.35 L500.4,947.51 L489.02,947.99 L477.63,948.49 L466.25,949.02 L454.86,949.57 L443.48,950.13 L432.09,950.69 L420.71,951.28 L409.32,951.92 L397.94,952.62 L386.55,953.36 L375.17,954.13 L363.78,954.94 L352.4,955.82 L341.02,956.77 L329.63,957.84 L318.25,959.05 L306.86,960.38 L295.48,961.87 L284.09,963.58 L272.71,965.61 L261.32,967.96 L249.94,970.62 L238.55,973.63 L227.17,977.08 L215.78,980.98 L204.4,985.19 L193.02,989.45 L181.63,993.56 L170.25,997.43 L158.86,1001.06 L147.48,1004.55 L136.09,1008.08 L124.71,1011.98 L113.32,1016.75 L101.94,1023.03 L90.55,1031.63 L79.17,1043.53 L67.78,1051.91 L56.4,1052.76Z" fill="url(#h3)"/>
</g>
<path d="M56.4,1008.35 L67.78,1007.5 L79.17,1001.22 L90.55,993.56 L101.94,987.8 L113.32,983.46 L124.71,980.12 L136.09,977.37 L147.48,974.9 L158.86,972.49 L170.25,970.01 L181.63,967.43 L193.02,964.83 L204.4,962.34 L215.78,960.04 L227.17,957.99 L238.55,956.18 L249.94,954.6 L261.32,953.21 L272.71,952.01 L284.09,950.97 L295.48,950.08 L306.86,949.32 L318.25,948.67 L329.63,948.12 L341.02,947.62 L352.4,947.16 L363.78,946.71 L375.17,946.27 L386.55,945.86 L397.94,945.5 L409.32,945.16 L420.71,944.83 L432.09,944.52 L443.48,944.23 L454.86,943.99 L466.25,943.78 L477.63,943.57 L489.02,943.37 L500.4,943.18" stroke="#58762b" stroke-width="1.3" fill="none" stroke-linejoin="round" clip-path="url(#c6)"/>
<rect x="56.4" y="935.4" width="444" height="387.7" fill="none" stroke="#dcdcdc" stroke-width="1.1"/>
<text class="lb" x="49.3" y="1330.4" font-size="17.68" text-anchor="end">0.0</text>
<text class="lb" x="49.3" y="1253.65" font-size="17.68" text-anchor="end">0.2</text>
<text class="lb" x="49.3" y="1176.9" font-size="17.68" text-anchor="end">0.4</text>
<text class="lb" x="49.3" y="1100.15" font-size="17.68" text-anchor="end">0.6</text>
<text class="lb" x="49.3" y="1023.4" font-size="17.68" text-anchor="end">0.8</text>
<text class="lb" x="49.3" y="946.65" font-size="17.68" text-anchor="end">1.0</text>
<text class="lb" x="56.4" y="1343.7" font-size="17.68" text-anchor="middle">0.00</text>
<text class="lb" x="167.4" y="1343.7" font-size="17.68" text-anchor="middle">0.05</text>
<text class="lb" x="278.4" y="1343.7" font-size="17.68" text-anchor="middle">0.10</text>
<text class="lb" x="389.4" y="1343.7" font-size="17.68" text-anchor="middle">0.15</text>
<text class="lb" x="500.4" y="1343.7" font-size="17.68" text-anchor="middle">0.20</text>
<text class="lb b" x="278.4" y="1363.7" font-size="19.8" text-anchor="middle">Geodesic distance</text>
<text class="lb b" transform="translate(17.5,1129.25) rotate(-90)" font-size="19.8" text-anchor="middle">% of points</text>
<rect x="250.4" y="1233.6" width="243.2" height="82.4" rx="3.5" fill="#000" fill-opacity="0.42"/>
<rect x="249.3" y="1232.5" width="243.2" height="82.4" rx="3.5" fill="#fff" stroke="#7a7a7a" stroke-width="1.1"/>
<path d="M256.1,1246.5 H292.6" stroke="#58762b" stroke-width="1.3"/>
<rect x="256.1" y="1265.65" width="36.5" height="12.5" fill="#58762b" fill-opacity="0.155"/>
<rect x="256.1" y="1291.05" width="36.5" height="12.5" fill="url(#h3)"/>
<text class="lb" x="306.4" y="1253.2" font-size="17.68">Dataset (AUC: 0.9460)</text>
<text class="lb" x="306.4" y="1278.6" font-size="17.68">Dataset ±2σ (95% CI)</text>
<text class="lb" x="306.4" y="1304" font-size="17.68">Dataset ±1σ (68% CI)</text>
</g>
<g>
<clipPath id="c7"><rect x="593.5" y="935.4" width="444" height="387.7"/></clipPath>
<path d="M593.5,1246.35 H1037.5 M593.5,1169.6 H1037.5 M593.5,1092.85 H1037.5 M593.5,1016.1 H1037.5 M593.5,939.35 H1037.5 M704.5,1323.1 V935.4 M815.5,1323.1 V935.4 M926.5,1323.1 V935.4" stroke="#dbdbdb" stroke-opacity="1" stroke-width="1.1" stroke-dasharray="4.1 1.8" fill="none"/>
<g clip-path="url(#c7)">
<path d="M593.5,1323.1 L604.88,1249 L616.27,1103.8 L627.65,1014.56 L639.04,975.68 L650.42,955 L661.81,944.73 L673.19,939.57 L684.58,939.53 L695.96,939.48 L707.35,939.44 L718.73,939.4 L730.12,939.36 L741.5,939.35 L752.88,939.35 L764.27,939.35 L775.65,939.35 L787.04,939.35 L798.42,939.35 L809.81,939.35 L821.19,939.35 L832.58,939.35 L843.96,939.35 L855.35,939.35 L866.73,939.35 L878.12,939.35 L889.5,939.35 L900.88,939.35 L912.27,939.35 L923.65,939.35 L935.04,939.35 L946.42,939.35 L957.81,939.35 L969.19,939.35 L980.58,939.35 L991.96,939.35 L1003.35,939.35 L1014.73,939.35 L1026.12,939.35 L1037.5,939.35 L1037.5,939.35 L1026.12,939.35 L1014.73,939.35 L1003.35,939.35 L991.96,939.35 L980.58,939.38 L969.19,939.43 L957.81,939.48 L946.42,939.54 L935.04,939.61 L923.65,939.69 L912.27,939.78 L900.88,939.89 L889.5,940 L878.12,940.22 L866.73,940.77 L855.35,941.48 L843.96,942.41 L832.58,943.59 L821.19,945.09 L809.81,946.93 L798.42,949.18 L787.04,952.02 L775.65,955.7 L764.27,960.48 L752.88,966.45 L741.5,973.56 L730.12,981.99 L718.73,992.18 L707.35,1005.27 L695.96,1021.9 L684.58,1040.76 L673.19,1063.62 L661.81,1091.76 L650.42,1128.29 L639.04,1176.62 L627.65,1240.16 L616.27,1314.42 L604.88,1323.1 L593.5,1323.1Z" fill="#58762b" fill-opacity="0.155"/>
<path d="M593.5,1323.1 L604.88,1275.94 L616.27,1154.17 L627.65,1076.56 L639.04,1023.37 L650.42,996.57 L661.81,979.75 L673.19,967.88 L684.58,959.31 L695.96,953.1 L707.35,948.67 L718.73,945.59 L730.12,943.42 L741.5,941.84 L752.88,940.7 L764.27,939.99 L775.65,939.6 L787.04,939.51 L798.42,939.46 L809.81,939.41 L821.19,939.36 L832.58,939.35 L843.96,939.35 L855.35,939.35 L866.73,939.35 L878.12,939.35 L889.5,939.35 L900.88,939.35 L912.27,939.35 L923.65,939.35 L935.04,939.35 L946.42,939.35 L957.81,939.35 L969.19,939.35 L980.58,939.35 L991.96,939.35 L1003.35,939.35 L1014.73,939.35 L1026.12,939.35 L1037.5,939.35 L1037.5,939.35 L1026.12,939.35 L1014.73,939.35 L1003.35,939.35 L991.96,939.35 L980.58,939.35 L969.19,939.38 L957.81,939.42 L946.42,939.46 L935.04,939.5 L923.65,939.56 L912.27,939.62 L900.88,939.69 L889.5,939.76 L878.12,939.91 L866.73,940.25 L855.35,940.69 L843.96,941.27 L832.58,942.02 L821.19,943.01 L809.81,944.38 L798.42,946.22 L787.04,948.63 L775.65,951.64 L764.27,955.34 L752.88,959.86 L741.5,965.35 L730.12,971.9 L718.73,979.65 L707.35,988.84 L695.96,999.74 L684.58,1012.79 L673.19,1031.65 L661.81,1056.82 L650.42,1089.11 L639.04,1127.01 L627.65,1184.84 L616.27,1255.46 L604.88,1317.64 L593.5,1323.1Z" fill="url(#h3)"/>
</g>
<path d="M593.5,1323.15 L604.88,1291.19 L616.27,1208.06 L627.65,1129.98 L639.04,1080.36 L650.42,1042.48 L661.81,1014.89 L673.19,996.99 L684.58,984.45 L695.96,975.69 L707.35,968.55 L718.73,962.44 L730.12,957.07 L741.5,952.59 L752.88,949.18 L764.27,946.71 L775.65,944.87 L787.04,943.46 L798.42,942.4 L809.81,941.61 L821.19,940.99 L832.58,940.51 L843.96,940.14 L855.35,939.91 L866.73,939.72 L878.12,939.59 L889.5,939.52 L900.88,939.48 L912.27,939.44 L923.65,939.41 L935.04,939.39 L946.42,939.36 L957.81,939.34 L969.19,939.32 L980.58,939.3 L991.96,939.27 L1003.35,939.24 L1014.73,939.22 L1026.12,939.19 L1037.5,939.16" stroke="#58762b" stroke-width="1.3" fill="none" stroke-linejoin="round" clip-path="url(#c7)"/>
<rect x="593.5" y="935.4" width="444" height="387.7" fill="none" stroke="#dcdcdc" stroke-width="1.1"/>
<text class="lb" x="586.4" y="1330.4" font-size="17.68" text-anchor="end">0.0</text>
<text class="lb" x="586.4" y="1253.65" font-size="17.68" text-anchor="end">0.2</text>
<text class="lb" x="586.4" y="1176.9" font-size="17.68" text-anchor="end">0.4</text>
<text class="lb" x="586.4" y="1100.15" font-size="17.68" text-anchor="end">0.6</text>
<text class="lb" x="586.4" y="1023.4" font-size="17.68" text-anchor="end">0.8</text>
<text class="lb" x="586.4" y="946.65" font-size="17.68" text-anchor="end">1.0</text>
<text class="lb" x="593.5" y="1343.7" font-size="17.68" text-anchor="middle">0.00</text>
<text class="lb" x="704.5" y="1343.7" font-size="17.68" text-anchor="middle">0.03</text>
<text class="lb" x="815.5" y="1343.7" font-size="17.68" text-anchor="middle">0.05</text>
<text class="lb" x="926.5" y="1343.7" font-size="17.68" text-anchor="middle">0.08</text>
<text class="lb" x="1037.5" y="1343.7" font-size="17.68" text-anchor="middle">0.10</text>
<text class="lb b" x="815.5" y="1363.7" font-size="19.8" text-anchor="middle">Chamfer distance</text>
<text class="lb b" transform="translate(553,1129.25) rotate(-90)" font-size="19.8" text-anchor="middle">% of points</text>
<rect x="787.6" y="1233.6" width="243.2" height="82.4" rx="3.5" fill="#000" fill-opacity="0.42"/>
<rect x="786.5" y="1232.5" width="243.2" height="82.4" rx="3.5" fill="#fff" stroke="#7a7a7a" stroke-width="1.1"/>
<path d="M793.3,1246.5 H829.8" stroke="#58762b" stroke-width="1.3"/>
<rect x="793.3" y="1265.65" width="36.5" height="12.5" fill="#58762b" fill-opacity="0.155"/>
<rect x="793.3" y="1291.05" width="36.5" height="12.5" fill="url(#h3)"/>
<text class="lb" x="843.6" y="1253.2" font-size="17.68">Dataset (AUC: 0.8947)</text>
<text class="lb" x="843.6" y="1278.6" font-size="17.68">Dataset ±2σ (95% CI)</text>
<text class="lb" x="843.6" y="1304" font-size="17.68">Dataset ±1σ (68% CI)</text>
</g>
<g>
<clipPath id="c8"><rect x="1130.5" y="935.4" width="443.3" height="387.7"/></clipPath>
<path d="M1130.5,1246.35 H1573.8 M1130.5,1169.6 H1573.8 M1130.5,1092.85 H1573.8 M1130.5,1016.1 H1573.8 M1130.5,939.35 H1573.8 M1241.33,1323.1 V935.4 M1352.15,1323.1 V935.4 M1462.97,1323.1 V935.4" stroke="#dbdbdb" stroke-opacity="1" stroke-width="1.1" stroke-dasharray="4.1 1.8" fill="none"/>
<g clip-path="url(#c8)">
<path d="M1130.5,1323.1 L1141.87,1323 L1153.23,1315.54 L1164.6,1271.19 L1175.97,1214.18 L1187.33,1147.28 L1198.7,1093.26 L1210.07,1043.88 L1221.43,1001.4 L1232.8,967.95 L1244.17,945.63 L1255.53,939.35 L1266.9,939.35 L1278.27,939.35 L1289.63,939.35 L1301,939.35 L1312.37,939.35 L1323.73,939.35 L1335.1,939.35 L1346.47,939.35 L1357.83,939.35 L1369.2,939.35 L1380.57,939.35 L1391.93,939.35 L1403.3,939.35 L1414.67,939.35 L1426.03,939.35 L1437.4,939.35 L1448.77,939.35 L1460.13,939.35 L1471.5,939.35 L1482.87,939.35 L1494.23,939.35 L1505.6,939.35 L1516.97,939.35 L1528.33,939.35 L1539.7,939.35 L1551.07,939.35 L1562.43,939.35 L1573.8,939.35 L1573.8,958.86 L1562.43,960.27 L1551.07,961.91 L1539.7,963.77 L1528.33,965.85 L1516.97,968.17 L1505.6,970.77 L1494.23,973.75 L1482.87,977.21 L1471.5,981.15 L1460.13,985.5 L1448.77,990.3 L1437.4,995.67 L1426.03,1001.86 L1414.67,1009.06 L1403.3,1017.21 L1391.93,1026.02 L1380.57,1035.33 L1369.2,1045.31 L1357.83,1056.25 L1346.47,1069.47 L1335.1,1086.49 L1323.73,1104.98 L1312.37,1124.94 L1301,1146.11 L1289.63,1168.13 L1278.27,1191.67 L1266.9,1215.51 L1255.53,1239.64 L1244.17,1266.2 L1232.8,1294.71 L1221.43,1323.1 L1210.07,1323.1 L1198.7,1323.1 L1187.33,1323.1 L1175.97,1323.1 L1164.6,1323.1 L1153.23,1323.1 L1141.87,1323.1 L1130.5,1323.1Z" fill="#58762b" fill-opacity="0.155"/>
<path d="M1130.5,1323.1 L1141.87,1323 L1153.23,1317.42 L1164.6,1283.92 L1175.97,1246.52 L1187.33,1200.22 L1198.7,1153.64 L1210.07,1109.64 L1221.43,1076.42 L1232.8,1050.56 L1244.17,1027.82 L1255.53,1009.87 L1266.9,997.19 L1278.27,986.81 L1289.63,978.33 L1301,971.44 L1312.37,965.85 L1323.73,961.15 L1335.1,956.96 L1346.47,953.13 L1357.83,949.67 L1369.2,946.64 L1380.57,944.13 L1391.93,942.25 L1403.3,940.93 L1414.67,940.03 L1426.03,939.48 L1437.4,939.35 L1448.77,939.35 L1460.13,939.35 L1471.5,939.35 L1482.87,939.35 L1494.23,939.35 L1505.6,939.35 L1516.97,939.35 L1528.33,939.35 L1539.7,939.35 L1551.07,939.35 L1562.43,939.35 L1573.8,939.35 L1573.8,951.57 L1562.43,952.39 L1551.07,953.38 L1539.7,954.53 L1528.33,955.86 L1516.97,957.37 L1505.6,959.1 L1494.23,961.12 L1482.87,963.48 L1471.5,966.19 L1460.13,969.2 L1448.77,972.55 L1437.4,976.39 L1426.03,980.89 L1414.67,986.2 L1403.3,992.25 L1391.93,998.76 L1380.57,1005.59 L1369.2,1012.97 L1357.83,1021.38 L1346.47,1031.17 L1335.1,1042.45 L1323.73,1055.26 L1312.37,1069.59 L1301,1084.86 L1289.63,1101.4 L1278.27,1119.33 L1266.9,1138.56 L1255.53,1159.27 L1244.17,1182.41 L1232.8,1208.96 L1221.43,1238.66 L1210.07,1266.41 L1198.7,1293.17 L1187.33,1312.64 L1175.97,1323.1 L1164.6,1323.1 L1153.23,1323.1 L1141.87,1323.1 L1130.5,1323.1Z" fill="url(#h3)"/>
</g>
<path d="M1130.5,1323.15 L1141.87,1323 L1153.23,1322.42 L1164.6,1311.91 L1175.97,1289.02 L1187.33,1256.73 L1198.7,1224.48 L1210.07,1193.2 L1221.43,1163.04 L1232.8,1133.49 L1244.17,1105.41 L1255.53,1080.56 L1266.9,1061.55 L1278.27,1047.14 L1289.63,1035.23 L1301,1024.88 L1312.37,1015.51 L1323.73,1006.58 L1335.1,998.03 L1346.47,990.29 L1357.83,983.89 L1369.2,978.83 L1380.57,974.63 L1391.93,970.88 L1403.3,967.39 L1414.67,964.14 L1426.03,961.22 L1437.4,958.65 L1448.77,956.41 L1460.13,954.46 L1471.5,952.76 L1482.87,951.27 L1494.23,949.97 L1505.6,948.85 L1516.97,947.88 L1528.33,947.02 L1539.7,946.24 L1551.07,945.53 L1562.43,944.88 L1573.8,944.29" stroke="#58762b" stroke-width="1.3" fill="none" stroke-linejoin="round" clip-path="url(#c8)"/>
<rect x="1130.5" y="935.4" width="443.3" height="387.7" fill="none" stroke="#dcdcdc" stroke-width="1.1"/>
<text class="lb" x="1123.4" y="1330.4" font-size="17.68" text-anchor="end">0.0</text>
<text class="lb" x="1123.4" y="1253.65" font-size="17.68" text-anchor="end">0.2</text>
<text class="lb" x="1123.4" y="1176.9" font-size="17.68" text-anchor="end">0.4</text>
<text class="lb" x="1123.4" y="1100.15" font-size="17.68" text-anchor="end">0.6</text>
<text class="lb" x="1123.4" y="1023.4" font-size="17.68" text-anchor="end">0.8</text>
<text class="lb" x="1123.4" y="946.65" font-size="17.68" text-anchor="end">1.0</text>
<text class="lb" x="1130.5" y="1343.7" font-size="17.68" text-anchor="middle">0.00</text>
<text class="lb" x="1241.33" y="1343.7" font-size="17.68" text-anchor="middle">0.04</text>
<text class="lb" x="1352.15" y="1343.7" font-size="17.68" text-anchor="middle">0.07</text>
<text class="lb" x="1462.97" y="1343.7" font-size="17.68" text-anchor="middle">0.11</text>
<text class="lb" x="1573.8" y="1343.7" font-size="17.68" text-anchor="middle">0.15</text>
<text class="lb b" x="1352.15" y="1363.7" font-size="19.8" text-anchor="middle">Quasi-conformal distortion</text>
<text class="lb b" transform="translate(1090,1129.25) rotate(-90)" font-size="19.8" text-anchor="middle">% of points</text>
<rect x="1324.4" y="1233.6" width="243.2" height="82.4" rx="3.5" fill="#000" fill-opacity="0.42"/>
<rect x="1323.3" y="1232.5" width="243.2" height="82.4" rx="3.5" fill="#fff" stroke="#7a7a7a" stroke-width="1.1"/>
<path d="M1330.1,1246.5 H1366.6" stroke="#58762b" stroke-width="1.3"/>
<rect x="1330.1" y="1265.65" width="36.5" height="12.5" fill="#58762b" fill-opacity="0.155"/>
<rect x="1330.1" y="1291.05" width="36.5" height="12.5" fill="url(#h3)"/>
<text class="lb" x="1380.4" y="1253.2" font-size="17.68">Dataset (AUC: 0.7121)</text>
<text class="lb" x="1380.4" y="1278.6" font-size="17.68">Dataset ±2σ (95% CI)</text>
<text class="lb" x="1380.4" y="1304" font-size="17.68">Dataset ±1σ (68% CI)</text>
</g>
</svg></body></html>
